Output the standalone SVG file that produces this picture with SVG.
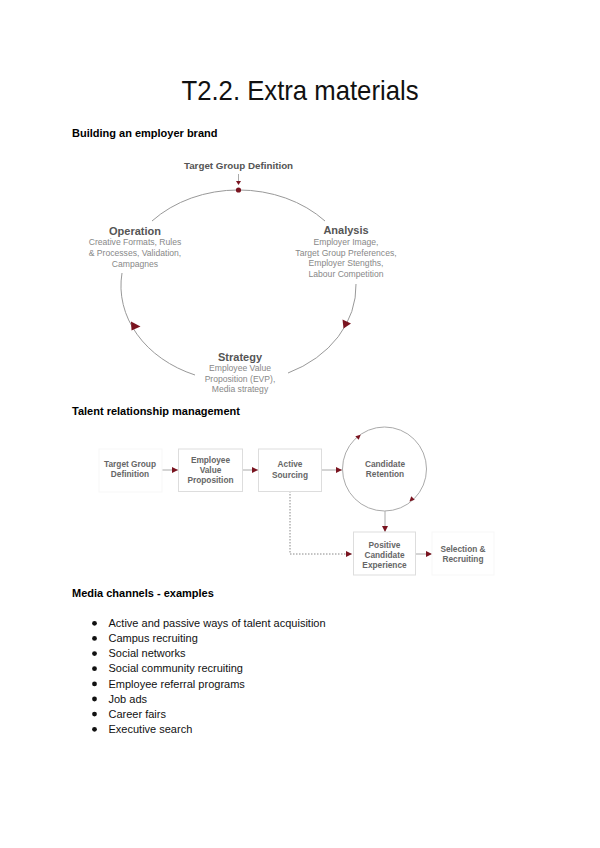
<svg xmlns="http://www.w3.org/2000/svg" width="600" height="848" viewBox="0 0 600 848">
<style>
.title{font-family:"Liberation Sans",Arial,sans-serif;font-size:28px;fill:#111}
.h{font-family:"Liberation Sans",Arial,sans-serif;font-size:11px;font-weight:bold;fill:#000}
.li{font-family:"Liberation Sans",Arial,sans-serif;font-size:11px;fill:#111}
.lb{font-family:"Liberation Sans",Arial,sans-serif;font-size:11px;font-weight:bold;fill:#555;text-anchor:middle}
.tg{font-family:"Liberation Sans",Arial,sans-serif;font-size:9.8px;font-weight:bold;fill:#555;text-anchor:middle}
.ds{font-family:"Liberation Sans",Arial,sans-serif;font-size:8.6px;fill:#888;text-anchor:middle}
.nl{font-family:"Liberation Sans",Arial,sans-serif;font-size:8.3px;font-weight:bold;fill:#666;text-anchor:middle}
.arc{fill:none;stroke:#999;stroke-width:1}
.ln{fill:none;stroke:#aaa;stroke-width:1}
.box{fill:#fff;stroke:#ddd;stroke-width:1}
.fbox{fill:#fff;stroke:#f7f7f7;stroke-width:1}
.ah{fill:#7a1420}
</style>
<defs>
<marker id="arr" markerUnits="userSpaceOnUse" markerWidth="6" markerHeight="6" refX="6" refY="3" orient="auto">
<path d="M0,0 L6,3 L0,6 z" fill="#7a1420"/>
</marker>
</defs>
<rect width="600" height="848" fill="#fff"/>

<text class="title" x="300" y="100" text-anchor="middle" textLength="237" lengthAdjust="spacingAndGlyphs">T2.2. Extra materials</text>
<text class="h" x="72" y="137">Building an employer brand</text>

<!-- Diagram 1: employer brand cycle -->
<g id="cycle-connectors">
<path class="arc" d="M152,221 A117.5,96 0 0 1 325,221"/>
<path class="arc" d="M356,284 A117.5,96 0 0 1 288,373"/>
<path class="arc" d="M195,375 A117.5,96 0 0 1 122,273"/>
<line class="ln" x1="238.5" y1="174" x2="238.5" y2="181"/>
<path class="ah" d="M236,181 L241,181 L238.5,185 z"/>
<circle class="ah" cx="238.5" cy="190" r="2.6"/>
<path class="ah" d="M131,321.5 L140.5,326.5 L131.5,330.5 z"/>
<path class="ah" d="M342.5,319.5 L351,323.5 L343.5,328.5 z"/>
</g>
<g id="node-target">
<text class="tg" x="238.5" y="169">Target Group Definition</text>
</g>
<g id="node-operation">
<text class="lb" x="135" y="235">Operation</text>
<text class="ds" x="135" y="245">Creative Formats, Rules</text>
<text class="ds" x="135" y="256">&amp; Processes, Validation,</text>
<text class="ds" x="135" y="267">Campagnes</text>
</g>
<g id="node-analysis">
<text class="lb" x="346" y="234">Analysis</text>
<text class="ds" x="346" y="245">Employer Image,</text>
<text class="ds" x="346" y="255.5">Target Group Preferences,</text>
<text class="ds" x="346" y="266">Employer Stengths,</text>
<text class="ds" x="346" y="277">Labour Competition</text>
</g>
<g id="node-strategy">
<text class="lb" x="240" y="361">Strategy</text>
<text class="ds" x="240" y="371">Employee Value</text>
<text class="ds" x="240" y="381.5">Proposition (EVP),</text>
<text class="ds" x="240" y="392">Media strategy</text>
</g>

<text class="h" x="72" y="415">Talent relationship management</text>

<!-- Diagram 2 -->
<g id="trm-connectors">
<line class="ln" x1="162" y1="470" x2="178" y2="470" marker-end="url(#arr)"/>
<line class="ln" x1="242" y1="470" x2="258" y2="470" marker-end="url(#arr)"/>
<line class="ln" x1="321" y1="470" x2="342" y2="470" marker-end="url(#arr)"/>
<line class="ln" x1="385" y1="511" x2="385" y2="532" marker-end="url(#arr)"/>
<line class="ln" x1="416" y1="554" x2="432" y2="554" marker-end="url(#arr)"/>
<path d="M290,491 L290,554 L352,554" fill="none" stroke="#888" stroke-width="1" stroke-dasharray="1.5,1.5" marker-end="url(#arr)"/>
</g>
<g id="node-tgd2">
<rect class="fbox" x="99" y="449" width="63" height="43"/>
<text class="nl" x="130" y="467">Target Group</text>
<text class="nl" x="130" y="477">Definition</text>
</g>
<g id="node-evp">
<rect class="box" x="178.5" y="449" width="64" height="42.5"/>
<text class="nl" x="210.5" y="463">Employee</text>
<text class="nl" x="210.5" y="472.5">Value</text>
<text class="nl" x="210.5" y="482.5">Proposition</text>
</g>
<g id="node-sourcing">
<rect class="box" x="258.5" y="449" width="63" height="42.5"/>
<text class="nl" x="290" y="467">Active</text>
<text class="nl" x="290" y="477.5">Sourcing</text>
</g>
<g id="node-retention">
<circle cx="384.5" cy="469" r="42" fill="#fff" stroke="#aaa" stroke-width="1"/>
<path class="ah" d="M0,-2.5 L5,0 L0,2.5 z" transform="translate(357,438) rotate(-42)"/>
<path class="ah" d="M0,-2.5 L5,0 L0,2.5 z" transform="translate(413,498) rotate(135)"/>
<text class="nl" x="385" y="467">Candidate</text>
<text class="nl" x="385" y="477">Retention</text>
</g>
<g id="node-pce">
<rect class="box" x="353.5" y="532" width="62" height="43"/>
<text class="nl" x="384.5" y="547.5">Positive</text>
<text class="nl" x="384.5" y="557.5">Candidate</text>
<text class="nl" x="384.5" y="567.5">Experience</text>
</g>
<g id="node-selection">
<rect class="fbox" x="432" y="532" width="62" height="43"/>
<text class="nl" x="463" y="552">Selection &amp;</text>
<text class="nl" x="463" y="562">Recruiting</text>
</g>

<text class="h" x="72" y="597">Media channels - examples</text>

<g id="list">
<circle cx="94.5" cy="623.3" r="2.4" fill="#111"/>
<text class="li" x="108.5" y="627">Active and passive ways of talent acquisition</text>
<circle cx="94.5" cy="638.4" r="2.4" fill="#111"/>
<text class="li" x="108.5" y="642.1">Campus recruiting</text>
<circle cx="94.5" cy="653.6" r="2.4" fill="#111"/>
<text class="li" x="108.5" y="657.3">Social networks</text>
<circle cx="94.5" cy="668.7" r="2.4" fill="#111"/>
<text class="li" x="108.5" y="672.4">Social community recruiting</text>
<circle cx="94.5" cy="683.9" r="2.4" fill="#111"/>
<text class="li" x="108.5" y="687.6">Employee referral programs</text>
<circle cx="94.5" cy="699" r="2.4" fill="#111"/>
<text class="li" x="108.5" y="702.7">Job ads</text>
<circle cx="94.5" cy="714.1" r="2.4" fill="#111"/>
<text class="li" x="108.5" y="717.8">Career fairs</text>
<circle cx="94.5" cy="729.3" r="2.4" fill="#111"/>
<text class="li" x="108.5" y="733">Executive search</text>
</g>
</svg>
